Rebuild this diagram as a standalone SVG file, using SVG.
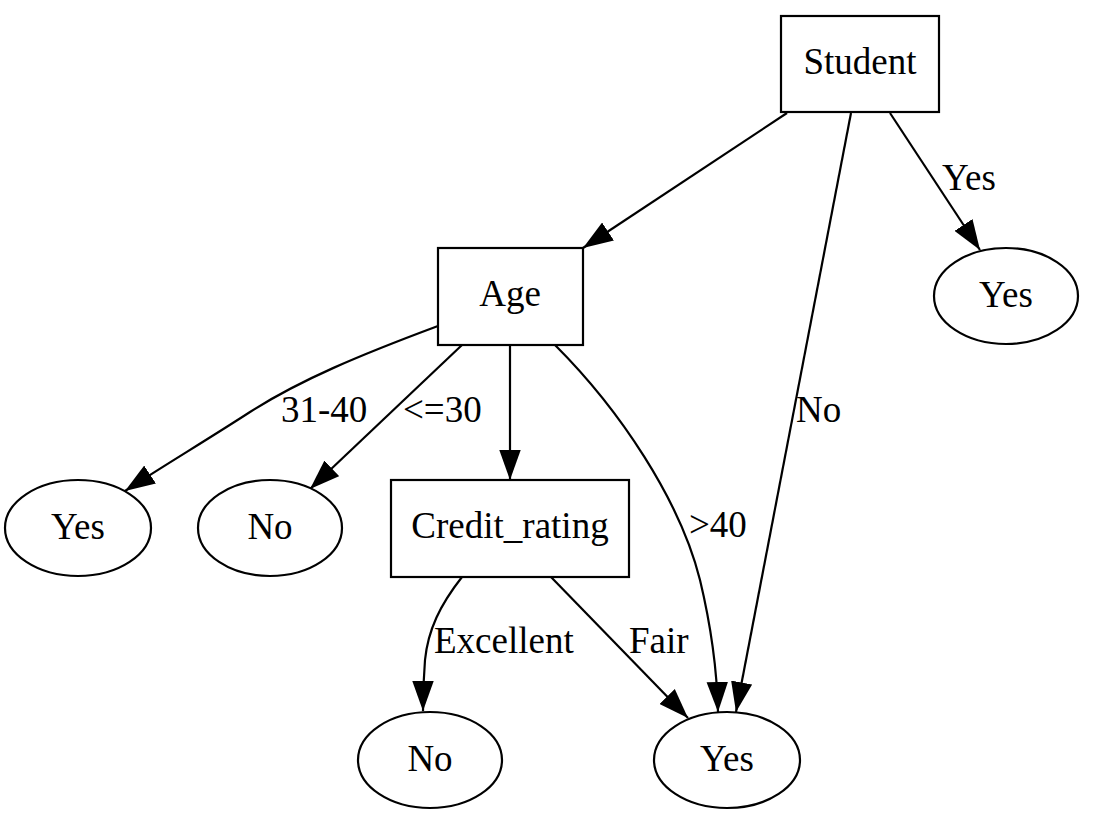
<svg xmlns="http://www.w3.org/2000/svg" width="1104" height="832" viewBox="0 0 1104 832">
<style>
.n{fill:#fff;stroke:#000;stroke-width:2.2}
.e{fill:none;stroke:#000;stroke-width:2.2;marker-end:url(#ah)}
text{font-family:"Liberation Serif","Times New Roman",serif;font-size:37px;fill:#000}
.c{text-anchor:middle}
</style>
<defs>
<marker id="ah" markerUnits="userSpaceOnUse" markerWidth="30" markerHeight="22" viewBox="0 0 28 20" refX="28" refY="10" orient="auto">
<path d="M0,0 L28,10 L0,20 z" fill="#000"/>
</marker>
</defs>
<rect width="1104" height="832" fill="#fff"/>
<g id="edges">
<path class="e" d="M787,113 L583,248"/>
<path class="e" d="M851,113 L736,712"/>
<path class="e" d="M890,113 L980,250"/>
<path class="e" d="M438,326 C360,355 300,380 250,412 C210,438 160,468 125,491"/>
<path class="e" d="M462,345 L310,489"/>
<path class="e" d="M510,345 L510,480"/>
<path class="e" d="M555,345 C620,410 680,500 700,580 C712,630 717,670 718,712"/>
<path class="e" d="M462,577 C440,605 428,630 425,660 C423,685 423,700 423,711"/>
<path class="e" d="M551,577 L688,718"/>
<text x="942" y="190">Yes</text>
<text x="796" y="422">No</text>
<text x="281" y="422">31-40</text>
<text x="403" y="422">&lt;=30</text>
<text x="689" y="537">&gt;40</text>
<text x="434" y="653">Excellent</text>
<text x="629" y="653">Fair</text>
</g>
<g id="student"><rect class="n" x="781" y="16" width="158" height="96"/><text class="c" x="860" y="74">Student</text></g>
<g id="yes_right"><ellipse class="n" cx="1006" cy="296" rx="72" ry="48"/><text class="c" x="1006" y="307">Yes</text></g>
<g id="age"><rect class="n" x="438" y="248" width="145" height="97"/><text class="c" x="510" y="306">Age</text></g>
<g id="yes_left"><ellipse class="n" cx="78" cy="528" rx="73" ry="48"/><text class="c" x="78" y="539">Yes</text></g>
<g id="no_mid"><ellipse class="n" cx="270" cy="528" rx="72" ry="48"/><text class="c" x="270" y="539">No</text></g>
<g id="credit"><rect class="n" x="391" y="480" width="238" height="97"/><text class="c" x="510" y="538">Credit_rating</text></g>
<g id="no_bottom"><ellipse class="n" cx="430" cy="760" rx="72" ry="48"/><text class="c" x="430" y="771">No</text></g>
<g id="yes_bottom"><ellipse class="n" cx="727" cy="760" rx="73" ry="48"/><text class="c" x="727" y="771">Yes</text></g>
</svg>
